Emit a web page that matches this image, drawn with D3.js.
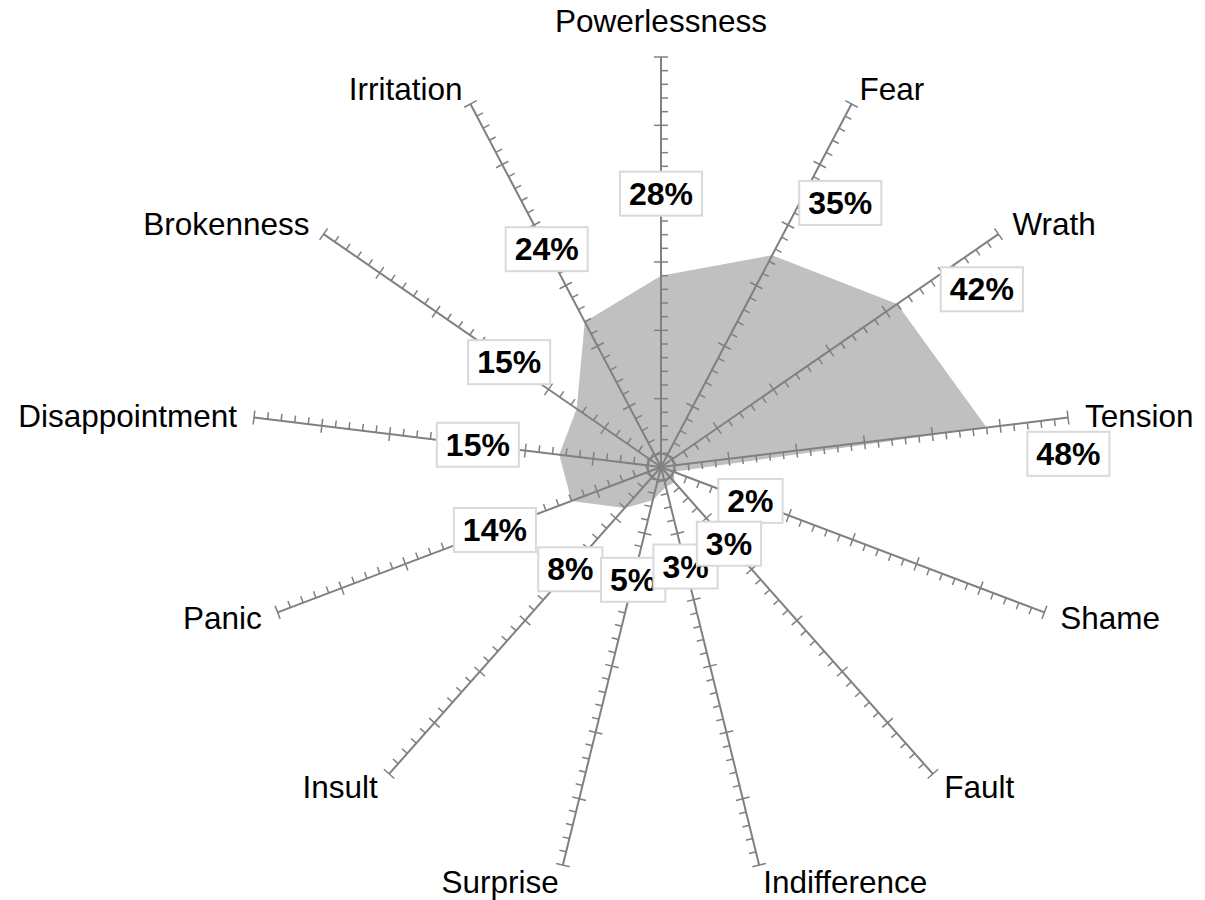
<!DOCTYPE html>
<html>
<head>
<meta charset="utf-8">
<script src="https://cdn.jsdelivr.net/npm/d3@7"></script>
<style>
  html, body { margin: 0; padding: 0; background: #fff; }
  svg { display: block; }
  text { font-family: Arial, "Liberation Sans", sans-serif; }
</style>
</head>
<body>
<svg id="chart" width="1205" height="900"></svg>
<script>
// ---- data ----
const categories = ["Powerlessness", "Fear", "Wrath", "Tension", "Shame", "Fault", "Indifference",
  "Surprise", "Insult", "Panic", "Disappointment", "Brokenness", "Irritation"];
const values = [0.28, 0.35, 0.42, 0.48, 0.02, 0.03, 0.03, 0.05, 0.08, 0.14, 0.15, 0.15, 0.24];
const valueLabels = ["28%", "35%", "42%", "48%", "2%", "3%", "3%", "5%", "8%", "14%", "15%", "15%", "24%"];
const tickValues = d3.range(1, 31).map(i => +(i * 0.02).toFixed(2)); // 2% .. 60%
const majorTickValues = [0.1, 0.2, 0.3, 0.4, 0.5, 0.6];

// ---- layout ----
const cx = 661, cy = 467, R = 410;
const svg = d3.select("#chart");
const g = svg.append("g").attr("transform", `translate(${cx},${cy})`);
const r = d3.scaleLinear().domain([0, 0.6]).range([0, R]);
const angle = d3.scaleLinear().domain([0, categories.length]).range([0, 2 * Math.PI]);
const axisColor = "#808080";

function pt(i, rad) {
  const a = angle(i);
  return [rad * Math.sin(a), -rad * Math.cos(a)];
}

// polygon
const radial = d3.lineRadial()
  .angle((d, i) => angle(i))
  .radius(d => r(d))
  .curve(d3.curveLinearClosed);
g.append("path").attr("d", radial(values)).attr("fill", "#c0c0c0").attr("stroke", "none");

// axes
categories.forEach((c, i) => {
  const a = angle(i);
  const ax = g.append("g").attr("transform", `rotate(${a * 180 / Math.PI})`);
  ax.append("line").attr("x1", 0).attr("y1", 0).attr("x2", 0).attr("y2", -R)
    .attr("stroke", axisColor).attr("stroke-width", 2);
  tickValues.forEach(t => {
    const major = majorTickValues.some(m => Math.abs(m - t) < 1e-6);
    ax.append("line")
      .attr("x1", major ? -7 : 0).attr("x2", 7)
      .attr("y1", -r(t)).attr("y2", -r(t))
      .attr("stroke", axisColor).attr("stroke-width", 1.5);
  });
});

// centre circle
g.append("circle").attr("r", 13).attr("fill", "none").attr("stroke", axisColor).attr("stroke-width", 1.5);

// axis labels
categories.forEach((c, i) => {
  const a = angle(i);
  const [x, y] = pt(i, R + 17);
  const s = Math.sin(a);
  const t = g.append("text").text(c).attr("font-size", 31.5).attr("fill", "#000");
  if (Math.abs(s) < 0.01) {
    t.attr("x", x).attr("y", y - 8).attr("text-anchor", "middle");
  } else {
    t.attr("x", x).attr("y", y).attr("dy", "0.35em").attr("text-anchor", s > 0 ? "start" : "end");
  }
});

// value labels (stacking order: crowded small labels last)
const drawOrder = [0, 1, 2, 3, 8, 9, 10, 11, 12, 4, 7, 6, 5];
drawOrder.forEach(i => {
  const v = values[i];
  const a = angle(i);
  let rad = r(v) + 82;
  let shift = 0;
  if (v > 0.3) { rad = r(v) + 78; shift = 36; }
  const [x0, y0] = pt(i, rad);
  const x = x0 + shift * Math.cos(a), y = y0 + shift * Math.sin(a);
  const lg = g.append("g").attr("transform", `translate(${x},${y})`);
  const rect = lg.append("rect").attr("fill", "#fff").attr("stroke", "#d9d9d9").attr("stroke-width", 2);
  const txt = lg.append("text").text(valueLabels[i])
    .attr("font-size", 32).attr("font-weight", "bold").attr("text-anchor", "middle")
    .attr("dy", "0.35em").attr("fill", "#000");
  const w = txt.node().getComputedTextLength() + 18, h = 44;
  rect.attr("x", -w / 2).attr("y", -h / 2).attr("width", w).attr("height", h);
});
</script>
</body>
</html>
